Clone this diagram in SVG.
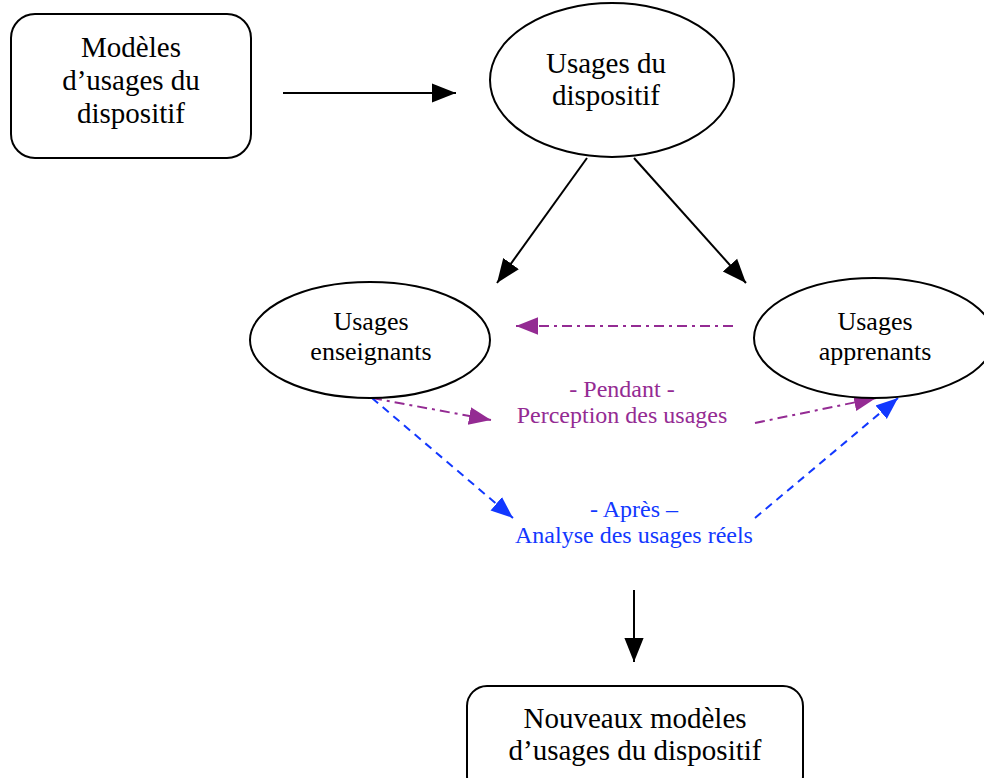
<svg xmlns="http://www.w3.org/2000/svg" width="984" height="778" viewBox="0 0 984 778">
<style>
.shape{fill:#fff;stroke:#000;stroke-width:2}
.t{font-family:"Liberation Serif","Times New Roman",serif;text-anchor:middle;fill:#000}
.big{font-size:29px}
.mid{font-size:26px}
.lab{font-size:24px}
.pur{fill:#942b93}
.blu{fill:#1238ff}
.c{fill:none;stroke-width:2}
.k{stroke:#000}
.p{stroke:#942b93;stroke-dasharray:10 5 3 5}
.b{stroke:#1238ff;stroke-dasharray:8 6}
</style>
<defs>
<marker id="ak2" viewBox="0 0 10 10" refX="10" refY="5" markerWidth="24" markerHeight="24" markerUnits="userSpaceOnUse" orient="auto"><path d="M0,1L10,5L0,9z" fill="#000"/></marker>
<marker id="ap" viewBox="0 0 10 10" refX="10" refY="5" markerWidth="22" markerHeight="22" markerUnits="userSpaceOnUse" orient="auto"><path d="M0,1L10,5L0,9z" fill="#942b93"/></marker>
<marker id="ab" viewBox="0 0 10 10" refX="10" refY="5" markerWidth="22" markerHeight="22" markerUnits="userSpaceOnUse" orient="auto"><path d="M0,1L10,5L0,9z" fill="#1238ff"/></marker>
</defs>
<g id="connectors">
<line class="c k" x1="283" y1="93" x2="456" y2="93" marker-end="url(#ak2)"/>
<line class="c k" x1="587" y1="158" x2="497" y2="283" marker-end="url(#ak2)"/>
<line class="c k" x1="634" y1="158" x2="746" y2="283" marker-end="url(#ak2)"/>
<line class="c p" x1="733" y1="326" x2="516" y2="326" marker-end="url(#ap)"/>
<line class="c p" x1="372" y1="398" x2="491" y2="420" marker-end="url(#ap)"/>
<line class="c p" x1="755" y1="423" x2="876" y2="398" marker-end="url(#ap)"/>
<line class="c b" x1="372" y1="398" x2="513" y2="518" marker-end="url(#ab)"/>
<line class="c b" x1="755" y1="518" x2="898" y2="398" marker-end="url(#ab)"/>
<line class="c k" x1="634" y1="590" x2="634" y2="662" marker-end="url(#ak2)"/>
</g>
<g id="modeles">
<rect class="shape" x="11" y="14" width="240" height="144" rx="24"/>
<text class="t big" x="131" y="57">Modèles</text>
<text class="t big" x="131" y="90">d’usages du</text>
<text class="t big" x="131" y="123">dispositif</text>
</g>
<g id="usages">
<ellipse class="shape" cx="612" cy="80" rx="122" ry="77"/>
<text class="t big" x="606" y="73">Usages du</text>
<text class="t big" x="606" y="105">dispositif</text>
</g>
<g id="enseignants">
<ellipse class="shape" cx="370" cy="340" rx="120" ry="58"/>
<text class="t mid" x="371" y="330">Usages</text>
<text class="t mid" x="371" y="360">enseignants</text>
</g>
<g id="apprenants">
<ellipse class="shape" cx="874" cy="338" rx="120" ry="60"/>
<text class="t mid" x="875" y="330">Usages</text>
<text class="t mid" x="875" y="360">apprenants</text>
</g>
<g id="pendant">
<text class="t lab pur" x="622" y="397">- Pendant -</text>
<text class="t lab pur" x="622" y="423">Perception des usages</text>
</g>
<g id="apres">
<text class="t lab blu" x="634" y="517">- Après –</text>
<text class="t lab blu" x="634" y="543">Analyse des usages réels</text>
</g>
<g id="nouveaux">
<rect class="shape" x="467" y="686" width="336" height="110" rx="20"/>
<text class="t big" x="635" y="728">Nouveaux modèles</text>
<text class="t big" x="635" y="760">d’usages du dispositif</text>
</g>
</svg>
